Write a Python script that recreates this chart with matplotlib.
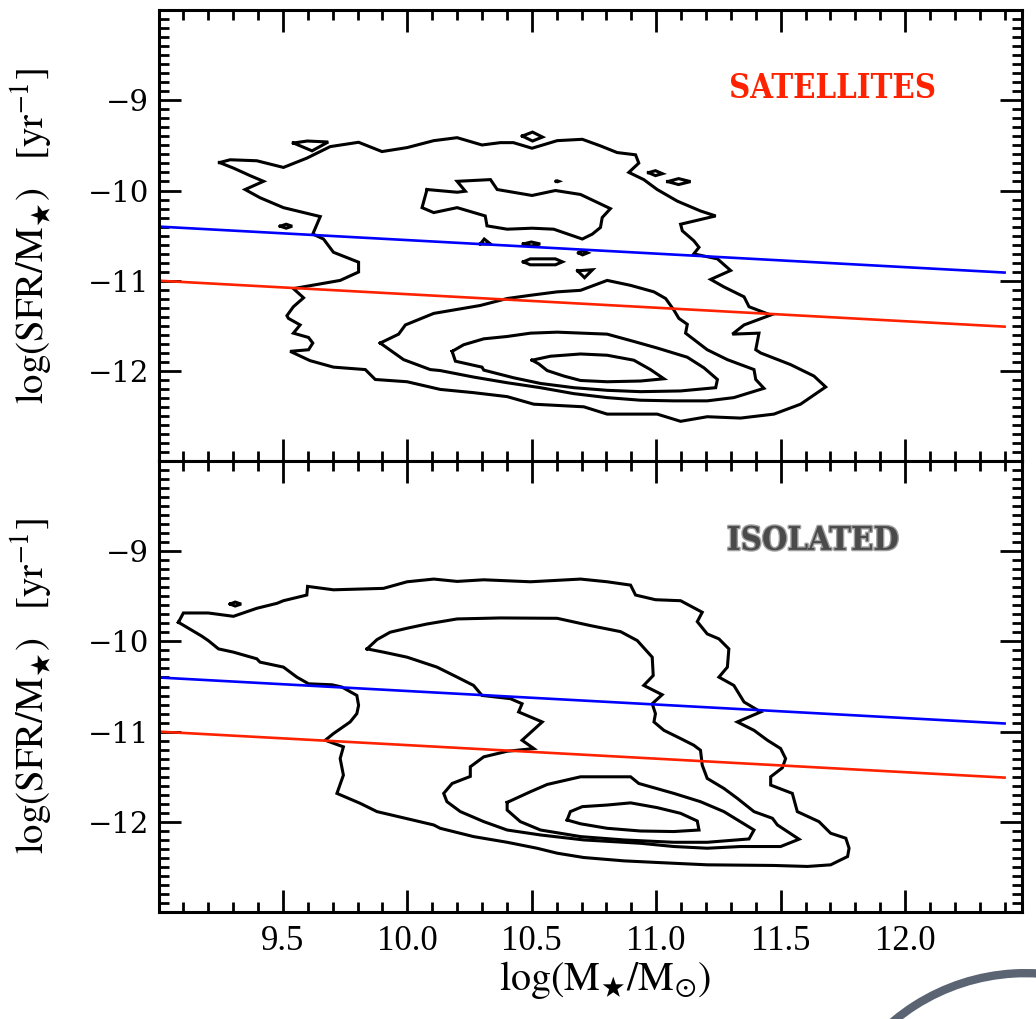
import numpy as np
import matplotlib.pyplot as plt
from matplotlib.patches import Arc
from matplotlib.ticker import MultipleLocator, FixedLocator
import matplotlib.patheffects as pe

plt.rcParams['mathtext.fontset'] = 'stix'
plt.rcParams['font.family'] = 'serif'
plt.rcParams['font.serif'] = ['Liberation Serif', 'DejaVu Serif']

# threshold lines (log sSFR vs log M*)
line_x = [9.0, 12.4]
blue_y = [-10.40, -10.91]
red_y = [-11.00, -11.51]

x_ticks = [9.5, 10.0, 10.5, 11.0, 11.5, 12.0]
y_ticks = [-12, -11, -10, -9]

# ---- SATELLITES contours (log M*, log sSFR) ----
sat_outer = [(9.245, -9.69), (9.288, -9.659), (9.395, -9.670), (9.502, -9.744), (9.596, -9.641),
             (9.690, -9.513), (9.804, -9.465), (9.898, -9.568), (9.999, -9.524), (10.106, -9.447),
             (10.200, -9.414), (10.300, -9.495), (10.374, -9.469), (10.426, -9.469), (10.501, -9.531),
             (10.602, -9.447), (10.703, -9.432), (10.776, -9.505), (10.843, -9.579), (10.917, -9.604),
             (10.930, -9.696), (10.890, -9.799), (10.950, -9.879), (11.004, -9.989), (11.085, -10.118),
             (11.178, -10.227), (11.239, -10.282), (11.098, -10.374), (11.105, -10.447), (11.151, -10.557),
             (11.172, -10.630), (11.151, -10.703), (11.246, -10.758), (11.299, -10.887), (11.219, -10.986),
             (11.272, -11.069), (11.353, -11.179), (11.373, -11.289), (11.460, -11.381), (11.353, -11.491),
             (11.306, -11.593), (11.413, -11.582), (11.400, -11.766), (11.420, -11.802), (11.540, -11.931),
             (11.634, -12.058), (11.681, -12.179), (11.580, -12.370), (11.473, -12.480), (11.339, -12.524),
             (11.205, -12.509), (11.098, -12.560), (11.004, -12.480), (10.803, -12.480), (10.709, -12.399),
             (10.508, -12.370), (10.401, -12.286), (10.266, -12.242), (10.132, -12.206), (9.999, -12.121),
             (9.871, -12.096), (9.831, -11.986), (9.703, -11.959), (9.609, -11.887), (9.529, -11.784),
             (9.603, -11.766), (9.620, -11.692), (9.603, -11.630), (9.542, -11.582), (9.569, -11.491),
             (9.522, -11.418), (9.516, -11.388), (9.542, -11.289), (9.583, -11.190), (9.542, -11.088),
             (9.730, -10.997), (9.804, -10.904), (9.804, -10.795), (9.703, -10.685), (9.663, -10.538),
             (9.620, -10.483), (9.650, -10.289), (9.502, -10.190), (9.408, -10.080), (9.348, -9.989),
             (9.422, -9.898), (9.368, -9.835), (9.301, -9.751)]

sat_lev2 = [(9.891, -11.692), (9.965, -11.593), (9.992, -11.491), (10.106, -11.363), (10.293, -11.275),
            (10.401, -11.198), (10.495, -11.162), (10.602, -11.124), (10.696, -11.107), (10.803, -10.997),
            (10.897, -11.052), (10.991, -11.124), (11.038, -11.198), (11.071, -11.326), (11.091, -11.418),
            (11.125, -11.484), (11.118, -11.582), (11.205, -11.766), (11.286, -11.876), (11.393, -11.986),
            (11.400, -12.096), (11.433, -12.194), (11.312, -12.297), (11.205, -12.333), (11.071, -12.333),
            (10.937, -12.326), (10.803, -12.297), (10.669, -12.253), (10.535, -12.187), (10.401, -12.132),
            (10.266, -12.069), (10.132, -11.997), (10.092, -11.986), (9.985, -11.876)]

sat_island = [(10.079, -9.989), (10.200, -10.019), (10.233, -10.008), (10.200, -9.898), (10.334, -9.879),
              (10.361, -9.989), (10.501, -10.055), (10.595, -10.000), (10.696, -10.044), (10.816, -10.201),
              (10.783, -10.300), (10.776, -10.410), (10.743, -10.484), (10.703, -10.538), (10.588, -10.429),
              (10.501, -10.418), (10.401, -10.429), (10.320, -10.392), (10.313, -10.282), (10.200, -10.190),
              (10.106, -10.245), (10.059, -10.190)]

sat_lev3 = [(10.180, -11.784), (10.226, -11.711), (10.307, -11.645), (10.401, -11.619), (10.495, -11.582),
            (10.602, -11.571), (10.803, -11.593), (10.910, -11.674), (11.004, -11.747), (11.125, -11.849),
            (11.192, -11.967), (11.246, -12.096), (11.239, -12.187), (11.098, -12.223), (10.937, -12.231),
            (10.803, -12.216), (10.669, -12.187), (10.535, -12.140), (10.427, -12.077), (10.307, -11.992),
            (10.300, -11.959), (10.193, -11.893)]

sat_lev4 = [(10.501, -11.882), (10.575, -11.838), (10.696, -11.813), (10.803, -11.827), (10.910, -11.882),
            (10.977, -11.986), (11.031, -12.088), (10.937, -12.113), (10.803, -12.121), (10.696, -12.107),
            (10.629, -12.058), (10.562, -11.997), (10.528, -11.923)]

sat_specks = [
    [(9.542, -9.473), (9.598, -9.451), (9.682, -9.462), (9.617, -9.560)],
    [(10.462, -9.396), (10.503, -9.352), (10.543, -9.407), (10.503, -9.451)],
    [(10.969, -9.802), (10.997, -9.780), (11.025, -9.813), (10.997, -9.835)],
    [(11.046, -9.901), (11.090, -9.868), (11.138, -9.901), (11.090, -9.934)],
    [(10.598, -9.898), (10.603, -9.893), (10.608, -9.898), (10.603, -9.903)],
    [(9.489, -10.396), (9.513, -10.374), (9.537, -10.396), (9.513, -10.418)],
    [(10.466, -10.593), (10.498, -10.571), (10.534, -10.593), (10.498, -10.615)],
    [(10.688, -10.692), (10.704, -10.670), (10.724, -10.692), (10.704, -10.714)],
    [(10.466, -10.791), (10.494, -10.758), (10.595, -10.758), (10.623, -10.791), (10.595, -10.824),
     (10.494, -10.824)],
    [(10.684, -10.890), (10.744, -10.879), (10.712, -10.967)],
    [(10.293, -10.593), (10.309, -10.538), (10.334, -10.593)],
]

# ---- ISOLATED contours ----
iso_outer = [(9.080, -9.788), (9.100, -9.685), (9.200, -9.685), (9.301, -9.722), (9.395, -9.633),
             (9.476, -9.578), (9.502, -9.549), (9.596, -9.486), (9.599, -9.390), (9.703, -9.428),
             (9.904, -9.412), (9.999, -9.339), (10.106, -9.309), (10.200, -9.335), (10.307, -9.317),
             (10.495, -9.339), (10.696, -9.309), (10.803, -9.339), (10.897, -9.376), (10.917, -9.486),
             (10.997, -9.538), (11.098, -9.549), (11.185, -9.677), (11.165, -9.781), (11.205, -9.917),
             (11.252, -9.972), (11.292, -10.083), (11.286, -10.285), (11.252, -10.396), (11.312, -10.488),
             (11.353, -10.672), (11.420, -10.782), (11.326, -10.893), (11.393, -10.986), (11.447, -11.096),
             (11.500, -11.188), (11.520, -11.299), (11.507, -11.401), (11.460, -11.501), (11.460, -11.593),
             (11.547, -11.685), (11.567, -11.887), (11.654, -11.998), (11.701, -12.127), (11.762, -12.182),
             (11.775, -12.293), (11.769, -12.385), (11.701, -12.477), (11.608, -12.495), (11.473, -12.484),
             (11.205, -12.477), (11.004, -12.451), (10.870, -12.433), (10.709, -12.396), (10.602, -12.348),
             (10.521, -12.293), (10.401, -12.227), (10.266, -12.164), (10.132, -12.072), (10.106, -12.035),
             (9.878, -11.887), (9.811, -11.796), (9.717, -11.685), (9.743, -11.483), (9.730, -11.299),
             (9.743, -11.169), (9.670, -11.096), (9.703, -11.022), (9.770, -10.893), (9.797, -10.801),
             (9.804, -10.709), (9.797, -10.599), (9.737, -10.506), (9.697, -10.481), (9.603, -10.470),
             (9.556, -10.396), (9.502, -10.285), (9.408, -10.230), (9.395, -10.193), (9.301, -10.119),
             (9.241, -10.083), (9.200, -9.991), (9.174, -9.942)]

iso_lev2 = [(9.838, -10.083), (9.878, -9.980), (9.931, -9.898), (9.999, -9.854), (10.079, -9.807),
            (10.200, -9.751), (10.374, -9.740), (10.602, -9.744), (10.736, -9.825), (10.857, -9.892),
            (10.924, -9.991), (10.984, -10.175), (10.988, -10.378), (10.950, -10.488), (11.024, -10.591),
            (10.984, -10.691), (10.997, -10.801), (10.991, -10.893), (11.031, -10.986), (11.098, -11.077),
            (11.151, -11.151), (11.178, -11.207), (11.185, -11.372), (11.205, -11.519), (11.272, -11.630),
            (11.326, -11.740), (11.393, -11.887), (11.467, -11.961), (11.487, -12.035), (11.574, -12.193),
            (11.500, -12.274), (11.339, -12.274), (11.205, -12.293), (11.071, -12.274), (10.937, -12.238),
            (10.709, -12.201), (10.535, -12.146), (10.401, -12.091), (10.307, -11.998), (10.213, -11.887),
            (10.159, -11.777), (10.146, -11.685), (10.180, -11.575), (10.253, -11.497), (10.253, -11.390),
            (10.307, -11.280), (10.401, -11.218), (10.508, -11.188), (10.461, -11.096), (10.542, -10.893),
            (10.447, -10.782), (10.461, -10.691), (10.414, -10.635), (10.300, -10.599), (10.266, -10.488),
            (10.200, -10.396), (10.119, -10.285), (9.999, -10.175), (9.904, -10.119)]

iso_lev3 = [(10.401, -11.785), (10.495, -11.666), (10.562, -11.586), (10.696, -11.501), (10.897, -11.501),
            (10.930, -11.575), (11.071, -11.685), (11.178, -11.777), (11.272, -11.887), (11.393, -12.091),
            (11.373, -12.190), (11.205, -12.227), (11.071, -12.227), (10.870, -12.201), (10.696, -12.164),
            (10.535, -12.091), (10.454, -11.998), (10.401, -11.870)]

iso_lev4 = [(10.642, -11.980), (10.655, -11.887), (10.703, -11.832), (10.803, -11.814), (10.897, -11.790),
            (11.004, -11.843), (11.098, -11.906), (11.165, -11.991), (11.172, -12.091), (11.071, -12.108),
            (10.937, -12.102), (10.803, -12.072), (10.696, -12.022)]

iso_specks = [
    [(9.288, -9.586), (9.308, -9.564), (9.332, -9.586), (9.308, -9.608)],
]


def draw_loop(ax, pts):
    p = np.array(list(pts) + [pts[0]])
    ax.plot(p[:, 0], p[:, 1], color='black', lw=2.2, solid_joinstyle='miter')


def style_axis(ax, show_x):
    ax.set_xlim(9.0, 12.47)
    ax.set_ylim(-13, -8)
    ax.xaxis.set_major_locator(FixedLocator(x_ticks))
    ax.xaxis.set_minor_locator(MultipleLocator(0.1))
    ax.yaxis.set_major_locator(FixedLocator(y_ticks))
    ax.yaxis.set_minor_locator(MultipleLocator(0.1))
    ax.tick_params(which='both', direction='in', top=True, right=True, width=2)
    ax.tick_params(which='major', length=16)
    ax.tick_params(which='minor', length=7)
    ax.tick_params(axis='x', pad=9, labelsize=25)
    ax.tick_params(axis='y', pad=7)
    for s in ax.spines.values():
        s.set_linewidth(2.2)
    ax.set_yticklabels(['\u2212%d' % abs(v) for v in y_ticks], fontsize=21,
                       family='DejaVu Serif')
    if show_x:
        ax.set_xticklabels(['%.1f' % v for v in x_ticks])
    else:
        ax.set_xticklabels([])
    ax.set_ylabel(r'$\mathrm{log(SFR/M_{\bigstar})\ \ \ [yr^{-1}]}$', fontsize=28)
    ax.yaxis.set_label_coords(-0.12, 0.5)


fig = plt.figure(figsize=(10.36, 10.19), dpi=100)
ax1 = fig.add_axes([0.153, 0.5476, 0.8335, 0.4424])
ax2 = fig.add_axes([0.153, 0.105, 0.8335, 0.4426])

for ax, loops, specks in [(ax1, [sat_outer, sat_lev2, sat_island, sat_lev3, sat_lev4], sat_specks),
                          (ax2, [iso_outer, iso_lev2, iso_lev3, iso_lev4], iso_specks)]:
    for c in loops + specks:
        draw_loop(ax, c)
    ax.plot(line_x, blue_y, color='#0000ff', lw=1.9)
    ax.plot(line_x, red_y, color='#ff2200', lw=1.9)

style_axis(ax1, False)
style_axis(ax2, True)

ax1.text(11.71, -8.87, 'SATELLITES', color='#ff2200', ha='center', va='center',
         fontsize=23.5, fontweight='bold', family='DejaVu Serif', stretch='condensed')
ax2.text(11.63, -8.88, 'ISOLATED', color='#4a4a4a', ha='center', va='center',
         fontsize=23.5, fontweight='bold', family='DejaVu Serif', stretch='condensed',
         path_effects=[pe.withStroke(linewidth=2, foreground='#a0a0a0')])

ax2.set_xlabel(r'$\mathrm{log(M_{\bigstar}/M_{\odot})}$', fontsize=29)
ax2.xaxis.set_label_coords(0.517, -0.105)

# grey ring peeking in at the lower right corner
fig.patches.append(Arc((0.99, -0.16), 0.40, 0.41, theta1=65, theta2=180,
                       transform=fig.transFigure, color='#5a6472', lw=6, figure=fig))

fig.savefig('out.png', dpi=100)
